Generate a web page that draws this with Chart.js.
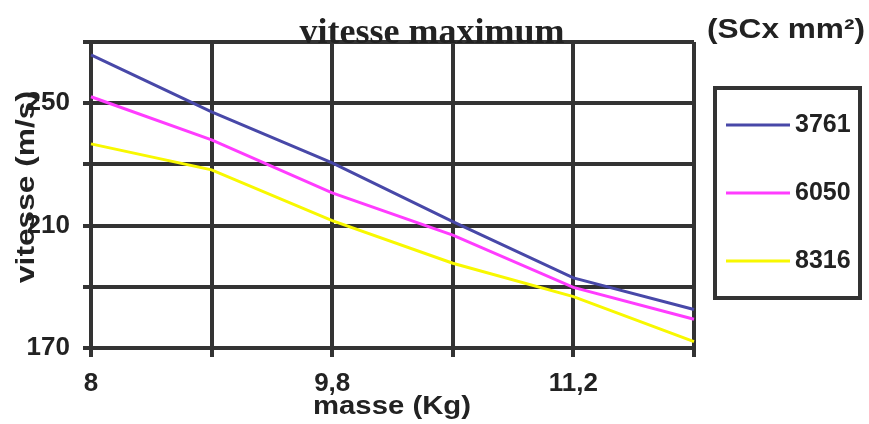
<!DOCTYPE html>
<html>
<head>
<meta charset="utf-8">
<script src="https://cdn.jsdelivr.net/npm/chart.js@4/dist/chart.umd.min.js"></script>
<style>
  html, body { margin: 0; padding: 0; background: #fff; }
  #wrap { width: 869px; height: 424px; }
</style>
</head>
<body>
<div id="wrap"><canvas id="c" width="869" height="424"></canvas></div>
<script>
// Mass categories (kg); only every other label is printed on the axis
const masses = ['8', '8,9', '9,8', '10,5', '11,2', '11,9'];

// Maximum speed (m/s) for each SCx value (mm²)
const seriesNames = ['3761', '6050', '8316'];
const speed3761 = [265.8, 247.2, 230.5, 211.3, 192.9, 182.6];
const speed6050 = [252.1, 238.0, 220.7, 206.9, 189.8, 179.4];
const speed8316 = [236.7, 228.2, 211.6, 197.7, 186.8, 172.1];
const seriesColors = ['#4848A8', '#FF3CFF', '#F8F800'];

// Speed axis: grid every 20, labels every 40
const speedMin = 170;
const speedMax = 270;
const speedStep = 20;
const speedLabels = [170, 210, 250];

const chartTitle = 'vitesse maximum';
const legendTitle = '(SCx mm²)';
const xTitle = 'masse (Kg)';
const yTitle = 'vitesse (m/s)';

const INK = '#222';
const GRID = '#333';
const SANS = '"Liberation Sans", Arial, sans-serif';
const SERIF = '"Liberation Serif", "Times New Roman", serif';

// Draw a centred text line stretched to a given width
function fittedText(ctx, text, cx, cy, width, angle) {
  ctx.save();
  ctx.translate(cx, cy);
  if (angle) ctx.rotate(angle);
  const w = ctx.measureText(text).width;
  ctx.scale(width / w, 1);
  ctx.textAlign = 'center';
  ctx.textBaseline = 'middle';
  ctx.fillText(text, 0, 0);
  ctx.restore();
}

const decorations = {
  id: 'decorations',
  afterDraw(chart) {
    const ctx = chart.ctx;
    const area = chart.chartArea;
    ctx.save();
    ctx.fillStyle = INK;

    // chart title, sitting on the top edge of the plot
    ctx.font = 'bold 36px ' + SERIF;
    ctx.textAlign = 'center';
    ctx.textBaseline = 'alphabetic';
    ctx.fillText(chartTitle, 432, area.top + 1);

    // unit heading above the legend
    ctx.font = 'bold 28px ' + SANS;
    fittedText(ctx, legendTitle, 786, 30, 158);

    // axis titles
    ctx.font = 'bold 26px ' + SANS;
    fittedText(ctx, xTitle, 392, 407, 158);
    ctx.font = 'bold 25px ' + SANS;
    fittedText(ctx, yTitle, 27, 187, 192, -Math.PI / 2);

    // legend box
    ctx.strokeStyle = GRID;
    ctx.lineWidth = 4;
    ctx.strokeRect(715, 88, 145, 210);
    chart.data.datasets.forEach((ds, i) => {
      const y = 125 + i * 68;
      ctx.strokeStyle = ds.borderColor;
      ctx.lineWidth = 3;
      ctx.beginPath();
      ctx.moveTo(726, y);
      ctx.lineTo(790, y);
      ctx.stroke();
      ctx.fillStyle = INK;
      ctx.font = 'bold 25px ' + SANS;
      ctx.textAlign = 'left';
      ctx.textBaseline = 'middle';
      ctx.fillText(ds.label, 795, y);
    });
    ctx.restore();
  }
};

const seriesValues = [speed3761, speed6050, speed8316];

new Chart(document.getElementById('c'), {
  type: 'line',
  data: {
    labels: masses,
    datasets: seriesNames.map((name, i) => ({
      label: name,
      data: seriesValues[i],
      borderColor: seriesColors[i],
      backgroundColor: seriesColors[i],
      borderWidth: 3,
      pointRadius: 0,
      tension: 0,
      fill: false
    }))
  },
  options: {
    responsive: false,
    animation: false,
    devicePixelRatio: 1,
    layout: { padding: { left: 0, top: 42, right: 175, bottom: 0 } },
    plugins: {
      legend: { display: false },
      title: { display: false },
      tooltip: { enabled: false }
    },
    scales: {
      x: {
        type: 'category',
        offset: false,
        afterFit(axis) { axis.height = 76; },
        grid: { color: GRID, lineWidth: 4, tickLength: 9, drawTicks: true },
        border: { color: GRID, width: 4 },
        ticks: {
          autoSkip: false,
          maxRotation: 0,
          padding: 11,
          color: INK,
          font: { family: SANS, size: 26, weight: 'bold' },
          callback(value, index) { return index % 2 === 0 ? masses[index] : ''; }
        }
      },
      y: {
        min: speedMin,
        max: speedMax,
        afterFit(axis) { axis.width = 91; },
        grid: { color: GRID, lineWidth: 4, tickLength: 8, drawTicks: true },
        border: { color: GRID, width: 4 },
        ticks: {
          stepSize: speedStep,
          padding: 13,
          color: INK,
          font: { family: SANS, size: 26, weight: 'bold' },
          callback(value) { return speedLabels.includes(value) ? String(value) : ''; }
        }
      }
    }
  },
  plugins: [decorations]
});
</script>
</body>
</html>
